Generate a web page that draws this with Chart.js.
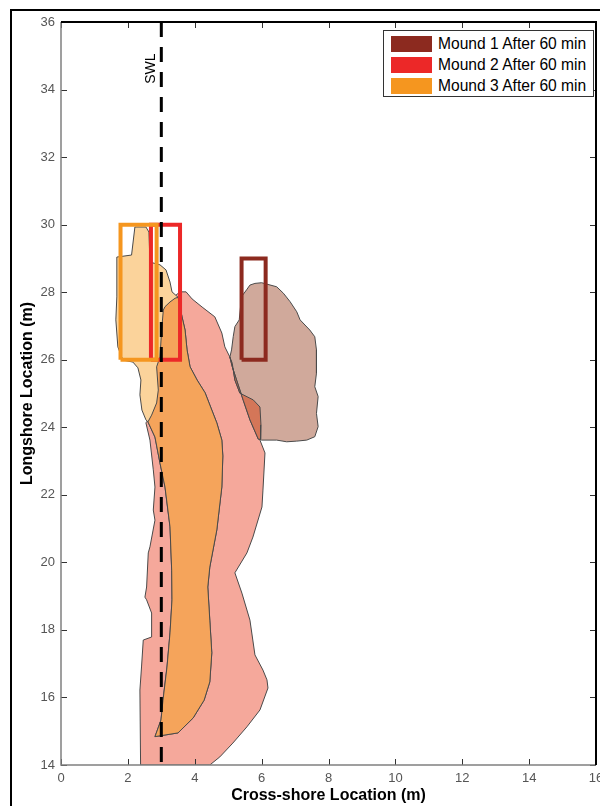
<!DOCTYPE html>
<html>
<head>
<meta charset="utf-8">
<title>Mound positions after 60 min</title>
<script src="https://cdn.jsdelivr.net/npm/chart.js@4.4.1/dist/chart.umd.min.js"></script>
<style>
  html, body { margin: 0; padding: 0; background: #fff; overflow: hidden; }
  #wrap { position: relative; width: 620px; height: 806px; }
  #legend {
    position: absolute; left: 383px; top: 30px; width: 209px; height: 65px;
    border: 1px solid #333; background: #fff;
    font: 15.6px "Liberation Sans", Arial, sans-serif; color: #000;
  }
  #legend .row { position: absolute; left: 7px; height: 21px; display: flex; align-items: center; white-space: nowrap; }
  #legend .swatch { display: inline-block; width: 41px; height: 16px; margin-right: 6px; }
</style>
</head>
<body>
<div id="wrap">
  <canvas id="mound-chart" width="620" height="806"></canvas>
  <div id="legend"></div>
</div>
<script>
'use strict';

// ******** DATA **************
let xTicks = [0, 2, 4, 6, 8, 10, 12, 14, 16];
let yTicks = [14, 16, 18, 20, 22, 24, 26, 28, 30, 32, 34, 36];

let legendLabels = ['Mound 1 After 60 min', 'Mound 2 After 60 min', 'Mound 3 After 60 min'];

// initial mound footprints (x, y in m)
let mound1Box = [[5.40, 26], [6.12, 26], [6.12, 29], [5.40, 29], [5.40, 26]];
let mound2Box = [[2.69, 26], [3.56, 26], [3.56, 30], [2.69, 30], [2.69, 26]];
let mound3Box = [[1.78, 26], [2.86, 26], [2.86, 30], [1.78, 30], [1.78, 26]];

// still water line
let swlLine = [[3, 36], [3, 14]];
let swlLabel = 'SWL';

// mound outlines after 60 min
let mound1After = [
  [5.65, 28.21], [5.80, 28.26], [6.00, 28.28], [6.15, 28.24], [6.45, 28.16], [6.65, 27.97],
  [6.85, 27.72], [7.05, 27.42], [7.15, 27.18], [7.44, 26.88], [7.59, 26.68], [7.64, 26.29],
  [7.64, 25.60], [7.59, 25.20], [7.69, 24.91], [7.64, 24.41], [7.69, 24.02], [7.59, 23.72],
  [7.35, 23.62], [7.05, 23.59], [6.75, 23.57], [6.45, 23.62], [6.00, 23.62], [5.90, 23.65],
  [5.65, 24.22], [5.45, 24.80], [5.25, 25.40], [5.12, 25.80], [5.05, 26.08], [5.10, 26.29],
  [5.15, 26.68], [5.20, 26.98], [5.33, 27.18], [5.40, 27.87], [5.55, 28.07], [5.65, 28.21]
];

let mound2After = [
  [3.11, 27.57], [3.26, 27.71], [3.41, 27.89], [3.56, 28.01], [3.74, 28.01], [3.92, 27.80],
  [4.22, 27.56], [4.60, 27.27], [4.81, 26.79], [4.90, 26.38], [5.05, 26.08], [5.12, 25.90],
  [5.20, 25.40], [5.35, 25.01], [5.75, 24.81], [5.95, 24.60], [5.98, 24.07], [5.95, 23.62],
  [6.10, 23.24], [6.04, 22.14], [6.01, 21.64], [5.74, 20.75], [5.56, 20.28], [5.20, 19.69],
  [5.41, 19.09], [5.65, 18.29], [5.80, 17.26], [6.04, 16.81], [6.16, 16.52], [6.19, 16.28],
  [5.95, 15.63], [5.56, 15.13], [5.14, 14.65], [4.75, 14.24], [4.45, 14.00], [2.38, 14.00],
  [2.36, 16.22], [2.41, 16.93], [2.46, 17.70], [2.71, 17.79], [2.71, 18.50], [2.56, 18.89],
  [2.51, 18.97], [2.56, 19.27], [2.61, 20.28], [2.66, 20.46], [2.81, 21.25], [2.76, 21.55],
  [2.81, 22.23], [2.76, 22.74], [2.66, 23.62], [2.54, 24.13], [2.71, 24.36], [2.86, 24.72],
  [2.91, 25.10], [2.86, 25.79], [2.96, 26.08], [3.01, 26.88], [3.06, 27.47], [3.11, 27.57]
];

let mound3After = [
  [2.21, 29.93], [2.54, 29.93], [2.63, 29.78], [2.66, 28.89], [2.96, 28.81], [3.14, 28.66],
  [3.26, 28.30], [3.32, 28.01], [3.50, 27.85], [3.62, 27.27], [3.71, 26.88], [3.77, 26.29],
  [3.86, 25.79], [4.07, 25.40], [4.31, 25.02], [4.51, 24.51], [4.66, 24.13], [4.81, 23.62],
  [4.84, 23.15], [4.81, 22.23], [4.66, 20.96], [4.45, 19.86], [4.39, 19.27], [4.45, 18.29],
  [4.51, 17.32], [4.45, 16.46], [4.28, 15.92], [3.95, 15.39], [3.50, 14.95], [2.81, 14.84],
  [2.99, 15.33], [3.05, 15.92], [3.17, 16.90], [3.26, 17.91], [3.32, 18.89], [3.31, 19.77],
  [3.26, 21.05], [3.11, 22.23], [2.96, 22.94], [2.81, 23.71], [2.60, 24.16], [2.54, 24.22],
  [2.42, 24.51], [2.36, 24.96], [2.39, 25.40], [2.30, 25.76], [2.15, 25.93], [1.85, 25.99],
  [1.70, 26.38], [1.64, 27.18], [1.67, 27.86], [1.67, 29.04], [2.11, 29.10], [2.21, 29.93]
];

// where mounds 1 and 2 overlap
let overlap12 = [
  [5.05, 26.08], [5.12, 25.90], [5.20, 25.40], [5.35, 25.01], [5.75, 24.81], [5.95, 24.60],
  [5.98, 24.07], [5.97, 23.64], [5.90, 23.65], [5.65, 24.22], [5.45, 24.80], [5.25, 25.40],
  [5.12, 25.80], [5.05, 26.08]
];

// where mounds 2 and 3 overlap
let overlap23 = [
  [3.11, 27.57], [3.26, 27.71], [3.41, 27.82], [3.50, 27.85], [3.62, 27.27], [3.71, 26.88],
  [3.77, 26.29], [3.86, 25.79], [4.07, 25.40], [4.31, 25.02], [4.51, 24.51], [4.66, 24.13],
  [4.81, 23.62], [4.84, 23.15], [4.81, 22.23], [4.66, 20.96], [4.45, 19.86], [4.39, 19.27],
  [4.45, 18.29], [4.51, 17.32], [4.45, 16.46], [4.28, 15.92], [3.95, 15.39], [3.50, 14.95],
  [2.81, 14.84], [2.99, 15.33], [3.05, 15.92], [3.17, 16.90], [3.26, 17.91], [3.32, 18.89],
  [3.31, 19.77], [3.26, 21.05], [3.11, 22.23], [2.96, 22.94], [2.81, 23.71], [2.60, 24.16],
  [2.71, 24.36], [2.86, 24.72], [2.91, 25.10], [2.86, 25.79], [2.96, 26.08], [3.01, 26.88],
  [3.06, 27.47], [3.11, 27.57]
];

// ********* STYLE *****************
let fontFamily = '"Liberation Sans", Arial, sans-serif';
let boxColors = ['#8c2a1f', '#ec2828', '#f5961f'];
let fillColors = {
  mound1: '#d0a99b',
  mound2: '#f5a89b',
  mound3: '#fbd39b',
  overlap12: '#d47658',
  overlap23: '#f5a45b'
};
let outlineColor = '#4a4a4a';
let swlLabelY = 34.62;

// ********* DOM REFERENCES ****************
let canvasElem = document.getElementById('mound-chart');
let legendElem = document.getElementById('legend');

// *********** HELPER FUNCTIONS ***************
function toPoints(pairs) {
  return pairs.map(p => ({ x: p[0], y: p[1] }));
}

function patchDataset(pairs, color, order) {
  return {
    data: toPoints(pairs),
    showLine: true,
    fill: 'shape',
    backgroundColor: color,
    borderColor: outlineColor,
    borderWidth: 1,
    pointRadius: 0,
    tension: 0,
    order: order
  };
}

function boxDataset(pairs, color, order) {
  return {
    data: toPoints(pairs),
    showLine: true,
    fill: false,
    borderColor: color,
    borderWidth: 4,
    pointRadius: 0,
    tension: 0,
    order: order
  };
}

function renderLegend() {
  for (let i = 0; i < legendLabels.length; i++) {
    let row = document.createElement('div');
    row.className = 'row';
    row.style.top = (2 + i * 21) + 'px';
    let swatch = document.createElement('span');
    swatch.className = 'swatch';
    swatch.style.background = boxColors[i];
    row.appendChild(swatch);
    row.appendChild(document.createTextNode(legendLabels[i]));
    legendElem.appendChild(row);
  }
}

// frame, axes box with inward ticks, SWL label
let matlabAxesPlugin = {
  id: 'matlabAxes',
  beforeDraw(chart) {
    let ctx = chart.ctx;
    ctx.save();
    ctx.fillStyle = '#fff';
    ctx.fillRect(0, 0, chart.width, chart.height);
    ctx.strokeStyle = '#000';
    ctx.lineWidth = 2;
    ctx.strokeRect(11, 10, 900, 900);
    ctx.restore();
  },
  afterDraw(chart) {
    let ctx = chart.ctx;
    let area = chart.chartArea;
    let xs = chart.scales.x;
    let ys = chart.scales.y;
    ctx.save();

    // ticks pointing in
    ctx.strokeStyle = '#333';
    ctx.lineWidth = 1;
    ctx.beginPath();
    xTicks.forEach(v => {
      let px = Math.round(xs.getPixelForValue(v)) + 0.5;
      ctx.moveTo(px, area.bottom); ctx.lineTo(px, area.bottom - 6);
      ctx.moveTo(px, area.top); ctx.lineTo(px, area.top + 6);
    });
    yTicks.forEach(v => {
      let py = Math.round(ys.getPixelForValue(v)) + 0.5;
      ctx.moveTo(area.left, py); ctx.lineTo(area.left + 6, py);
      ctx.moveTo(area.right, py); ctx.lineTo(area.right - 6, py);
    });
    ctx.stroke();

    // box
    ctx.strokeStyle = '#808080';
    ctx.lineWidth = 1.5;
    ctx.beginPath();
    ctx.moveTo(area.left, area.top);
    ctx.lineTo(area.left, area.bottom);
    ctx.lineTo(area.right, area.bottom);
    ctx.stroke();
    ctx.strokeStyle = '#000';
    ctx.lineWidth = 2;
    ctx.beginPath();
    ctx.moveTo(area.left, area.top);
    ctx.lineTo(area.right, area.top);
    ctx.lineTo(area.right, area.bottom);
    ctx.stroke();

    // SWL label beside the dashed line
    ctx.translate(xs.getPixelForValue(swlLine[0][0]) - 10, ys.getPixelForValue(swlLabelY));
    ctx.rotate(-Math.PI / 2);
    ctx.fillStyle = '#000';
    ctx.font = '14px ' + fontFamily;
    ctx.textAlign = 'center';
    ctx.textBaseline = 'middle';
    ctx.fillText(swlLabel, 0, 0);
    ctx.restore();
  }
};

// ************** CHART ************************
function renderChart() {
  let swlDataset = {
    data: toPoints(swlLine),
    showLine: true,
    fill: false,
    borderColor: '#000',
    borderWidth: 3,
    borderDash: [15, 10],
    pointRadius: 0,
    order: 0
  };

  let config = {
    type: 'scatter',
    data: {
      datasets: [
        swlDataset,
        boxDataset(mound3Box, boxColors[2], 1),
        boxDataset(mound2Box, boxColors[1], 2),
        boxDataset(mound1Box, boxColors[0], 3),
        patchDataset(overlap23, fillColors.overlap23, 4),
        patchDataset(mound3After, fillColors.mound3, 5),
        patchDataset(overlap12, fillColors.overlap12, 6),
        patchDataset(mound1After, fillColors.mound1, 7),
        patchDataset(mound2After, fillColors.mound2, 8)
      ]
    },
    options: {
      responsive: false,
      animation: false,
      layout: { padding: { left: 0, top: 22, right: 24, bottom: 0 } },
      plugins: {
        legend: { display: false },
        tooltip: { enabled: false }
      },
      scales: {
        x: {
          type: 'linear',
          min: 0,
          max: 16,
          afterBuildTicks: s => { s.ticks = xTicks.map(v => ({ value: v })); },
          afterFit: s => { s.height = 41; },
          grid: { display: false, drawTicks: false },
          border: { display: false },
          ticks: { color: '#555', font: { family: fontFamily, size: 13 }, padding: 6 },
          title: {
            display: true,
            text: 'Cross-shore Location (m)',
            color: '#000',
            font: { family: fontFamily, size: 16, weight: 'bold', lineHeight: 1.2 },
            padding: { top: 0, bottom: 1 }
          }
        },
        y: {
          type: 'linear',
          min: 14,
          max: 36,
          afterBuildTicks: s => { s.ticks = yTicks.map(v => ({ value: v })); },
          afterFit: s => { s.width = 61; },
          grid: { display: false, drawTicks: false },
          border: { display: false },
          ticks: { color: '#555', font: { family: fontFamily, size: 13 }, padding: 6 },
          title: {
            display: true,
            text: 'Longshore Location (m)',
            color: '#000',
            font: { family: fontFamily, size: 16, weight: 'bold', lineHeight: 1.2 },
            padding: { top: 18, bottom: 0 }
          }
        }
      }
    },
    plugins: [matlabAxesPlugin]
  };

  new Chart(canvasElem, config);
}

renderChart();
renderLegend();
</script>
</body>
</html>
